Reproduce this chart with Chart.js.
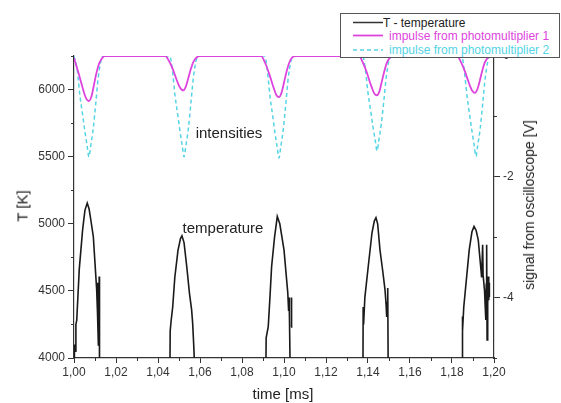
<!DOCTYPE html>
<html>
<head>
<meta charset="utf-8">
<script src="https://cdn.jsdelivr.net/npm/chart.js@4.4.1/dist/chart.umd.min.js"></script>
<style>
  body { margin: 0; background: #fff; }
  #wrap { position: relative; width: 561px; height: 403px; font-family: 'Liberation Sans', Arial, sans-serif; color: #222; }
  #wrap canvas { position: absolute; left: 0; top: 0; }
  .lbl { position: absolute; white-space: nowrap; line-height: 1; }
  .rot { transform: translate(-50%, -50%) rotate(-90deg); }
  .ctr { transform: translate(-50%, -50%); }
  #legend { position: absolute; left: 340px; top: 13px; width: 218px; height: 43px; border: 1px solid #555; background: #fff; }
  #legend span { position: absolute; font-size: 12px; line-height: 14px; white-space: nowrap; }
  #legend svg { position: absolute; left: 0; top: 0; }
</style>
</head>
<body>
<div id="wrap">
  <canvas id="canvas" width="561" height="403"></canvas>
  <div class="lbl rot" style="left:22px; top:206px; font-size:15px;">T [K]</div>
  <div class="lbl ctr" style="left:283px; top:393px; font-size:15px;">time [ms]</div>
  <div class="lbl rot" style="left:529px; top:205px; font-size:14px;">signal from oscilloscope [V]</div>
  <div class="lbl ctr" style="left:229px; top:132px; font-size:15px;">intensities</div>
  <div class="lbl ctr" style="left:223px; top:227px; font-size:15px;">temperature</div>
  <div id="legend">
    <svg width="218" height="43">
      <line x1="12" y1="8.5" x2="42" y2="8.5" stroke="#333" stroke-width="1.5"/>
      <line x1="12" y1="21.5" x2="42" y2="21.5" stroke="#dd44dd" stroke-width="1.8"/>
      <line x1="12" y1="36" x2="42" y2="36" stroke="#55d4e4" stroke-width="1.5" stroke-dasharray="4,3"/>
    </svg>
    <span style="left:42px; top:1.5px; color:#222;">T - temperature</span>
    <span style="left:48px; top:14.5px; color:#dd44dd;">impulse from photomultiplier 1</span>
    <span style="left:48px; top:29px; color:#55d4e4;">impulse from photomultiplier 2</span>
  </div>
</div>
<script>
// photomultiplier 1 (magenta), signal in V
const pm1Time = [
  1.0000, 1.0023, 1.0035, 1.0047, 1.0059, 1.0071, 1.0083, 1.0095, 1.0107, 1.0119, 1.0133, 1.0146,
  1.0435, 1.0455, 1.0472, 1.0484, 1.0496, 1.0508, 1.0520, 1.0532, 1.0544, 1.0556, 1.0568, 1.0582, 1.0595,
  1.0891, 1.0911, 1.0928, 1.0940, 1.0952, 1.0964, 1.0976, 1.0988, 1.1000, 1.1012, 1.1024, 1.1038, 1.1051,
  1.1357, 1.1377, 1.1394, 1.1406, 1.1418, 1.1430, 1.1442, 1.1454, 1.1466, 1.1478, 1.1490, 1.1504, 1.1517,
  1.1824, 1.1844, 1.1861, 1.1873, 1.1885, 1.1897, 1.1909, 1.1921, 1.1933, 1.1945, 1.1957, 1.1971, 1.1984, 1.2000
];
const pm1 = [
  -0.03, -0.30, -0.45, -0.60, -0.71, -0.745, -0.67, -0.48, -0.28, -0.13, -0.04, 0,
  0, -0.10, -0.23, -0.35, -0.46, -0.54, -0.57, -0.51, -0.37, -0.22, -0.10, -0.03, 0,
  0, -0.12, -0.28, -0.41, -0.54, -0.65, -0.68, -0.61, -0.44, -0.26, -0.12, -0.03, 0,
  0, -0.12, -0.27, -0.40, -0.52, -0.62, -0.65, -0.59, -0.42, -0.25, -0.11, -0.03, 0,
  0, -0.11, -0.25, -0.37, -0.49, -0.58, -0.61, -0.55, -0.40, -0.23, -0.10, -0.03, 0, 0
];

// photomultiplier 2 (cyan, dashed), signal in V
const pm2Time = [
  1.0000, 1.0016, 1.0028, 1.0040, 1.0052, 1.0063, 1.0071, 1.0079, 1.0092, 1.0104, 1.0115, 1.0127, 1.0137,
  1.0456, 1.0469, 1.0481, 1.0493, 1.0505, 1.0516, 1.0524, 1.0532, 1.0545, 1.0557, 1.0568, 1.0580, 1.0590,
  1.0908, 1.0921, 1.0933, 1.0945, 1.0957, 1.0968, 1.0976, 1.0984, 1.0997, 1.1009, 1.1020, 1.1032, 1.1042,
  1.1375, 1.1388, 1.1400, 1.1412, 1.1424, 1.1435, 1.1443, 1.1451, 1.1464, 1.1476, 1.1487, 1.1499, 1.1509,
  1.1846, 1.1859, 1.1871, 1.1883, 1.1895, 1.1906, 1.1914, 1.1922, 1.1935, 1.1947, 1.1958, 1.1970, 1.1980, 1.2000
];
const pm2 = [
  0, -0.25, -0.65, -0.95, -1.25, -1.50, -1.67, -1.50, -1.19, -0.77, -0.37, -0.10, 0,
  0, -0.25, -0.65, -0.95, -1.25, -1.50, -1.67, -1.50, -1.19, -0.77, -0.37, -0.10, 0,
  0, -0.25, -0.66, -0.96, -1.27, -1.52, -1.69, -1.52, -1.20, -0.78, -0.37, -0.10, 0,
  0, -0.24, -0.61, -0.89, -1.18, -1.41, -1.57, -1.41, -1.11, -0.72, -0.35, -0.09, 0,
  0, -0.25, -0.65, -0.95, -1.24, -1.49, -1.66, -1.49, -1.18, -0.76, -0.37, -0.10, 0, 0
];

// temperature in K (null = no data / gap between flashes)
const tempTime = [
  1.0000, 1.0002, 1.0006, 1.0009, 1.0013, 1.0025, 1.0041, 1.0052, 1.0063, 1.0072, 1.0080, 1.0092, 1.0101, 1.0108, 1.0110, 1.0111, 1.0113, 1.0116, 1.0118, 1.0120, 1.0121, 1.0122,
  1.0300,
  1.0457, 1.0458, 1.0462, 1.0470, 1.0480, 1.0495, 1.0507, 1.0514, 1.0524, 1.0537, 1.0550, 1.0560, 1.0565, 1.0570, 1.0574,
  1.0750,
  1.0914, 1.0915, 1.0925, 1.0933, 1.0941, 1.0955, 1.0968, 1.0980, 1.1000, 1.1018, 1.1022, 1.1024, 1.1026, 1.1029,
  1.1032, 1.1035, 1.1036,
  1.1200,
  1.1376, 1.1377, 1.1379, 1.1385, 1.1401, 1.1419, 1.1430, 1.1438, 1.1446, 1.1457, 1.1470, 1.1481, 1.1486, 1.1488, 1.1490, 1.1492, 1.1494, 1.1496,
  1.1650,
  1.1848, 1.1849, 1.1851, 1.1856, 1.1867, 1.1882, 1.1895, 1.1905, 1.1915, 1.1925, 1.1938, 1.1941, 1.1946, 1.1948, 1.1955, 1.1961, 1.1963, 1.1965, 1.1967, 1.1970, 1.1973, 1.1975, 1.1977, 1.1978
];
const tempK = [
  3950, 4100, 4050, 4250, 4280, 4660, 4955, 5100, 5154, 5110, 5030, 4905, 4681, 4507, 4420, 4560, 4330, 4097, 4300, 4607, 4350, 3950,
  null,
  3950, 4200, 4270, 4380, 4600, 4800, 4890, 4910, 4860, 4680, 4480, 4360, 4260, 4100, 3950,
  null,
  3950, 4150, 4234, 4450, 4680, 4900, 5054, 5000, 4806, 4485, 4350, 4450, 4300, 3950,
  null, 4230, 4450,
  null,
  3950, 4380, 4250, 4450, 4680, 4933, 5020, 5045, 5000, 4806, 4650, 4507, 4400, 4306, 4420, 4350, 4522, 3950,
  null,
  3950, 4310, 4200, 4380, 4560, 4806, 4940, 4980, 4950, 4880, 4657, 4600, 4843, 4620, 4500, 4284, 4550, 4843, 4134, 4400, 4607, 4430, 4560, 4455
];

const xTicks = [1.00, 1.02, 1.04, 1.06, 1.08, 1.10, 1.12, 1.14, 1.16, 1.18, 1.20];
const tTicks = [4000, 4500, 5000, 5500, 6000];
const vTicks = [-4, -2, 0];

const pts = (xs, ys) => xs.map((x, i) => ({ x: x, y: ys[i] }));

const axisColor = '#333';
const tickFont = { family: "'Liberation Sans', Arial, sans-serif", size: 12 };

// short minor ticks half way between the major ones
const minorTicks = {
  id: 'minorTicks',
  afterDraw(chart) {
    const ctx = chart.ctx;
    ctx.save();
    ctx.strokeStyle = axisColor;
    ctx.lineWidth = 1;
    ['x', 'y', 'y1'].forEach(id => {
      const s = chart.scales[id];
      const v = s.ticks.map(t => t.value);
      const step = v[1] - v[0];
      for (let m = v[0] - step / 2; m <= s.max + 1e-9; m += step) {
        if (m < s.min - 1e-9) continue;
        const p = Math.round(s.getPixelForValue(m)) + 0.5;
        ctx.beginPath();
        if (id === 'x') { ctx.moveTo(p, s.top); ctx.lineTo(p, s.top + 3); }
        else if (id === 'y') { ctx.moveTo(s.right, p); ctx.lineTo(s.right - 3, p); }
        else { ctx.moveTo(s.left, p); ctx.lineTo(s.left + 3, p); }
        ctx.stroke();
      }
    });
    ctx.restore();
  }
};

const ctx = document.getElementById('canvas').getContext('2d');
const myChart = new Chart(ctx, {
  type: 'line',
  data: {
    datasets: [{
      label: 'T - temperature',
      data: pts(tempTime, tempK),
      yAxisID: 'y',
      borderColor: '#1a1a1a',
      borderWidth: 1.6,
      pointRadius: 0,
      tension: 0,
      spanGaps: false,
      order: 0
    }, {
      label: 'impulse from photomultiplier 1',
      data: pts(pm1Time, pm1),
      yAxisID: 'y1',
      borderColor: '#dd44dd',
      borderWidth: 1.8,
      pointRadius: 0,
      cubicInterpolationMode: 'monotone',
      order: 1
    }, {
      label: 'impulse from photomultiplier 2',
      data: pts(pm2Time, pm2),
      yAxisID: 'y1',
      borderColor: '#55d4e4',
      borderWidth: 1.5,
      borderDash: [4, 3],
      pointRadius: 0,
      cubicInterpolationMode: 'monotone',
      order: 2
    }]
  },
  options: {
    responsive: false,
    animation: false,
    devicePixelRatio: 1,
    layout: { padding: { top: 56, left: 0, right: 0, bottom: 0 } },
    plugins: { legend: { display: false }, tooltip: { enabled: false } },
    scales: {
      x: {
        type: 'linear',
        min: 1.0,
        max: 1.2,
        afterFit: s => { s.height = 45; },
        afterBuildTicks: s => { s.ticks = xTicks.map(v => ({ value: v })); },
        ticks: {
          color: '#333', font: tickFont, padding: 2, maxRotation: 0, autoSkip: false,
          callback: v => v.toFixed(2).replace('.', ',')
        },
        grid: { drawOnChartArea: false, tickLength: 5, color: axisColor },
        border: { color: axisColor, width: 1.2 }
      },
      y: {
        position: 'left',
        min: 4000,
        max: 6250,
        afterFit: s => { s.width = 74; },
        afterBuildTicks: s => { s.ticks = tTicks.map(v => ({ value: v })); },
        ticks: { color: '#333', font: tickFont, padding: 3, callback: v => String(v) },
        grid: { drawOnChartArea: false, tickLength: 6, color: axisColor },
        border: { color: axisColor, width: 1.2 }
      },
      y1: {
        position: 'right',
        min: -5,
        max: 0,
        afterFit: s => { s.width = 67; },
        afterBuildTicks: s => { s.ticks = vTicks.map(v => ({ value: v })); },
        ticks: { color: '#333', font: tickFont, padding: 3, callback: v => String(v) },
        grid: { drawOnChartArea: false, tickLength: 6, color: axisColor },
        border: { color: axisColor, width: 1.2 }
      }
    }
  },
  plugins: [minorTicks]
});
</script>
</body>
</html>
